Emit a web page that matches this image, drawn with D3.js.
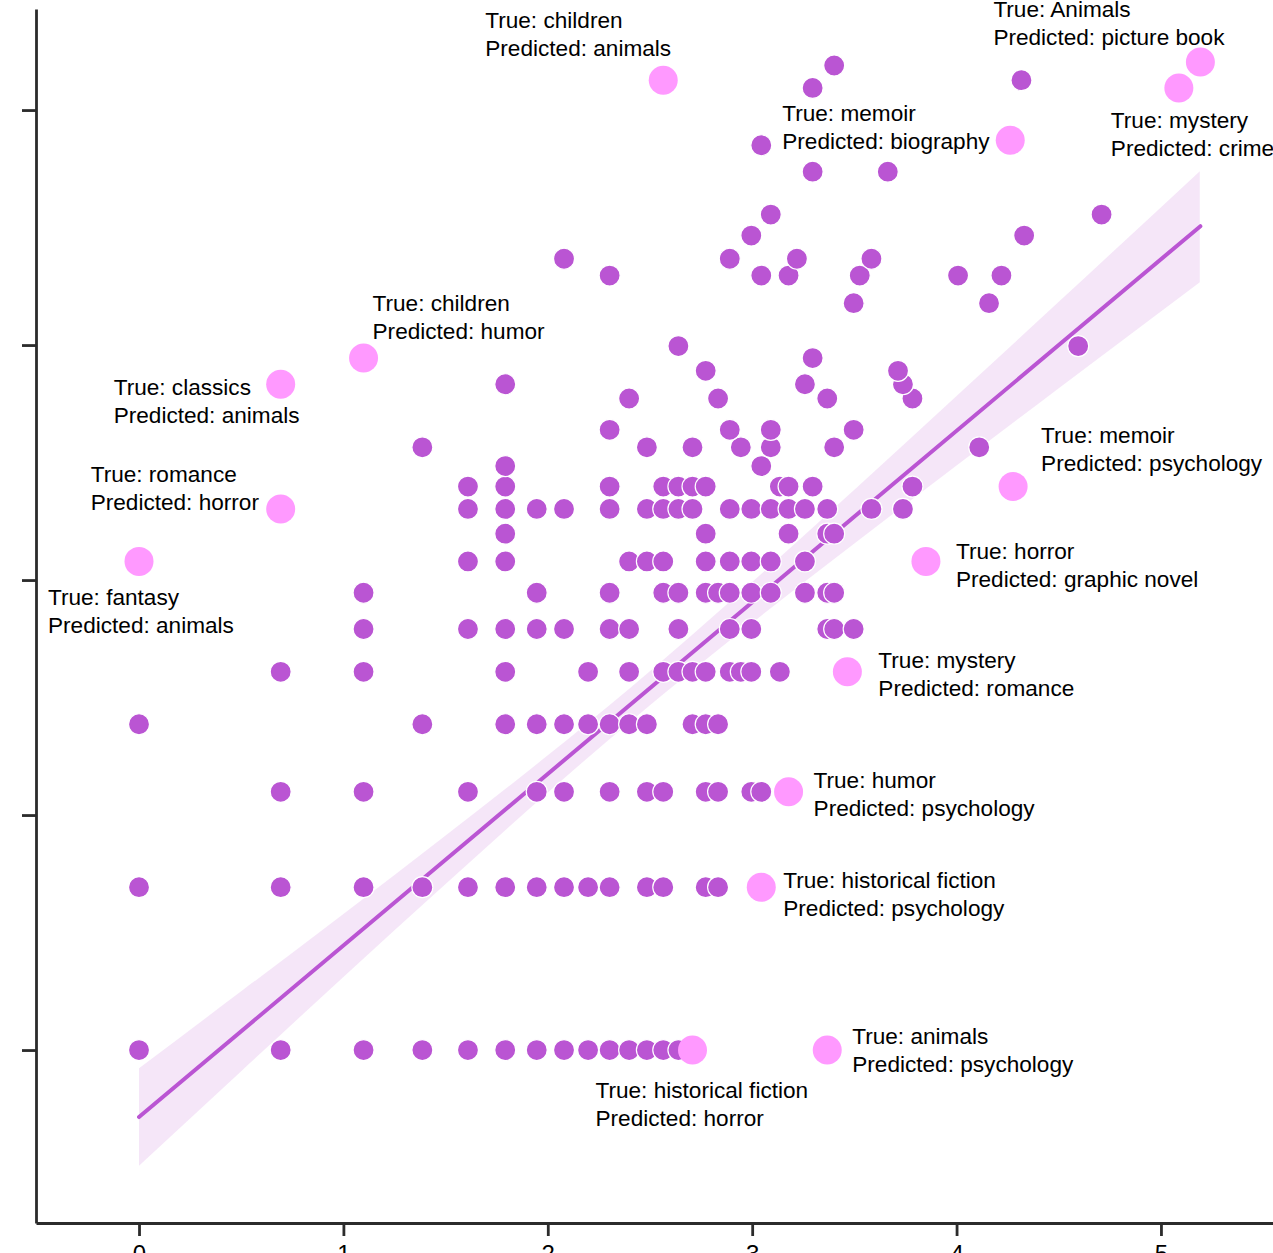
<!DOCTYPE html>
<html>
<head>
<meta charset="utf-8">
<script src="https://cdn.jsdelivr.net/npm/d3@7"></script>
<style>
  html, body { margin: 0; padding: 0; background: #fff; overflow: hidden; }
  text { font-family: "Liberation Sans", Arial, Helvetica, sans-serif; }
</style>
</head>
<body>
<div id="chart"></div>
<script>
// Book counts per (x, y) cell, both axes shown as natural log of the count.
// Each row: [y count, [x counts...]]
const rows = [
    [1, [1, 2, 3, 4, 5, 6, 7, 8, 9, 10, 11, 12, 13, 14]],
    [2, [1, 2, 3, 4, 5, 6, 7, 8, 9, 10, 12, 13, 16, 17]],
    [3, [2, 3, 5, 7, 8, 10, 12, 13, 16, 17, 20, 21]],
    [4, [1, 4, 6, 7, 8, 9, 10, 11, 12, 15, 16, 17]],
    [5, [2, 3, 6, 9, 11, 13, 14, 15, 16, 18, 19, 20, 23]],
    [6, [3, 5, 6, 7, 8, 10, 11, 14, 18, 20, 29, 30, 33]],
    [7, [3, 7, 10, 13, 14, 16, 17, 18, 20, 22, 26, 29, 30]],
    [8, [5, 6, 11, 12, 13, 16, 18, 20, 22, 26]],
    [9, [6, 16, 24, 29, 30]],
    [10, [5, 6, 7, 8, 10, 12, 13, 14, 15, 18, 20, 22, 24, 26, 29, 36, 42]],
    [11, [5, 6, 10, 13, 14, 15, 16, 23, 24, 27, 44]],
    [12, [6, 21]],
    [13, [4, 12, 15, 19, 22, 30, 61]],
    [14, [10, 18, 22, 33]],
    [16, [11, 17, 29, 44]],
    [17, [6, 26, 42]],
    [18, [16, 41]],
    [19, [27]],
    [20, [14, 99]],
    [24, [33, 64]],
    [27, [10, 21, 24, 34, 55, 68]],
    [29, [8, 18, 25, 36]],
    [32, [20, 76]],
    [35, [22, 111]],
    [42, [27, 39]],
    [47, [21]],
    [60, [27]],
    [62, [75]],
    [66, [30]]
];

// Highlighted misclassifications
const hlX = [13, 180, 162, 71, 3, 2, 2, 1, 72, 47, 32, 24, 21, 29, 15];
const hlY = [62, 67, 60, 48, 19, 17, 10, 8, 11, 8, 5, 3, 2, 1, 1];
const hlTrue = ["children", "Animals", "mystery", "memoir", "children", "classics", "romance",
    "fantasy", "memoir", "horror", "mystery", "humor", "historical fiction", "animals", "historical fiction"];
const hlPred = ["animals", "picture book", "crime", "biography", "humor", "animals", "horror",
    "animals", "psychology", "graphic novel", "romance", "psychology", "psychology", "psychology", "horror"];

// Regression fit (log-log) and its 95% band
const fitIntercept = -0.285;
const fitSlope = 0.73;
const bandX = [0, 0.5, 1, 1.5, 2, 2.4, 3, 3.5, 4, 4.5, 5.19];
const bandHalf = [0.207, 0.170, 0.134, 0.103, 0.079, 0.072, 0.087, 0.114, 0.148, 0.184, 0.236];

const xTicks = [0, 1, 2, 3, 4, 5];
const yTicks = [0, 1, 2, 3, 4];

// label placement relative to its point (px)
const labelOffsets = [
    [-178, -52], [-207, -45], [-68, 40], [-228, -19], [9, -47], [-167, 11], [-190, -27],
    [-91, 44], [28, -44], [30, -2], [31, -4], [25, -4], [22, 1], [25, -6], [-97, 48]
];

const colors = {
    point: "#ba55d3",
    highlight: "#ff99ff",
    axis: "#2b2b2b"
};

const width = 1273;
const height = 1253;

const svg = d3.select("#chart").append("svg")
    .attr("width", width)
    .attr("height", height);

const x = d3.scaleLinear().domain([-0.504, 5.695]).range([36, 1303]);
const y = d3.scaleLinear().domain([-0.736, 4.43]).range([1223, 9]);

const points = [];
rows.forEach(([yc, xs]) => xs.forEach(xc => points.push({ lx: Math.log(xc), ly: Math.log(yc) })));
const hlPoints = hlX.map((xc, i) => ({
    lx: Math.log(xc), ly: Math.log(hlY[i]), t: hlTrue[i], p: hlPred[i], off: labelOffsets[i]
}));

const fitY = v => fitIntercept + fitSlope * v;

// Confidence band
svg.append("path")
    .datum(bandX.map((bx, i) => ({ bx, h: bandHalf[i] })))
    .attr("fill", colors.point)
    .attr("fill-opacity", 0.15)
    .attr("d", d3.area()
        .curve(d3.curveMonotoneX)
        .x(d => x(d.bx))
        .y0(d => y(fitY(d.bx) - d.h))
        .y1(d => y(fitY(d.bx) + d.h)));

// Fit line over the data's x range
const xExtent = d3.extent(points.concat(hlPoints), d => d.lx);
svg.append("path")
    .datum(xExtent)
    .attr("fill", "none")
    .attr("stroke", colors.point)
    .attr("stroke-width", 4)
    .attr("stroke-linecap", "round")
    .attr("d", d3.line().x(d => x(d)).y(d => y(fitY(d))));

// Axes
const xAxis = svg.append("g")
    .attr("transform", `translate(0,${y.range()[0]})`)
    .call(d3.axisBottom(x).tickValues(xTicks).tickSize(13).tickSizeOuter(0).tickPadding(9).tickFormat(d3.format("d")));

const yAxis = svg.append("g")
    .attr("transform", `translate(${x.range()[0]},0)`)
    .call(d3.axisLeft(y).tickValues(yTicks).tickSize(14).tickSizeOuter(0).tickPadding(40).tickFormat(d3.format("d")));

[xAxis, yAxis].forEach(g => {
    g.select(".domain").attr("stroke", colors.axis).attr("stroke-width", 2.8);
    g.selectAll(".tick line").attr("stroke", colors.axis).attr("stroke-width", 2.8);
    g.selectAll(".tick text").attr("fill", "#000").style("font-size", "24px")
        .style("font-family", '"Liberation Sans", Arial, sans-serif');
});

// Scatter
svg.append("g")
    .selectAll("circle")
    .data(points)
    .join("circle")
    .attr("cx", d => x(d.lx))
    .attr("cy", d => y(d.ly))
    .attr("r", 10.5)
    .attr("fill", colors.point)
    .attr("stroke", "#fff")
    .attr("stroke-width", 1.2);

svg.append("g")
    .selectAll("circle")
    .data(hlPoints)
    .join("circle")
    .attr("cx", d => x(d.lx))
    .attr("cy", d => y(d.ly))
    .attr("r", 14.5)
    .attr("fill", colors.highlight);

// Labels
const labels = svg.append("g")
    .selectAll("text")
    .data(hlPoints)
    .join("text")
    .attr("x", d => x(d.lx) + d.off[0])
    .attr("y", d => y(d.ly) + d.off[1])
    .style("font-size", "22.6px")
    .attr("fill", "#000");

labels.append("tspan").text(d => `True: ${d.t}`);
labels.append("tspan")
    .attr("x", d => x(d.lx) + d.off[0])
    .attr("dy", 28)
    .text(d => `Predicted: ${d.p}`);
</script>
</body>
</html>
